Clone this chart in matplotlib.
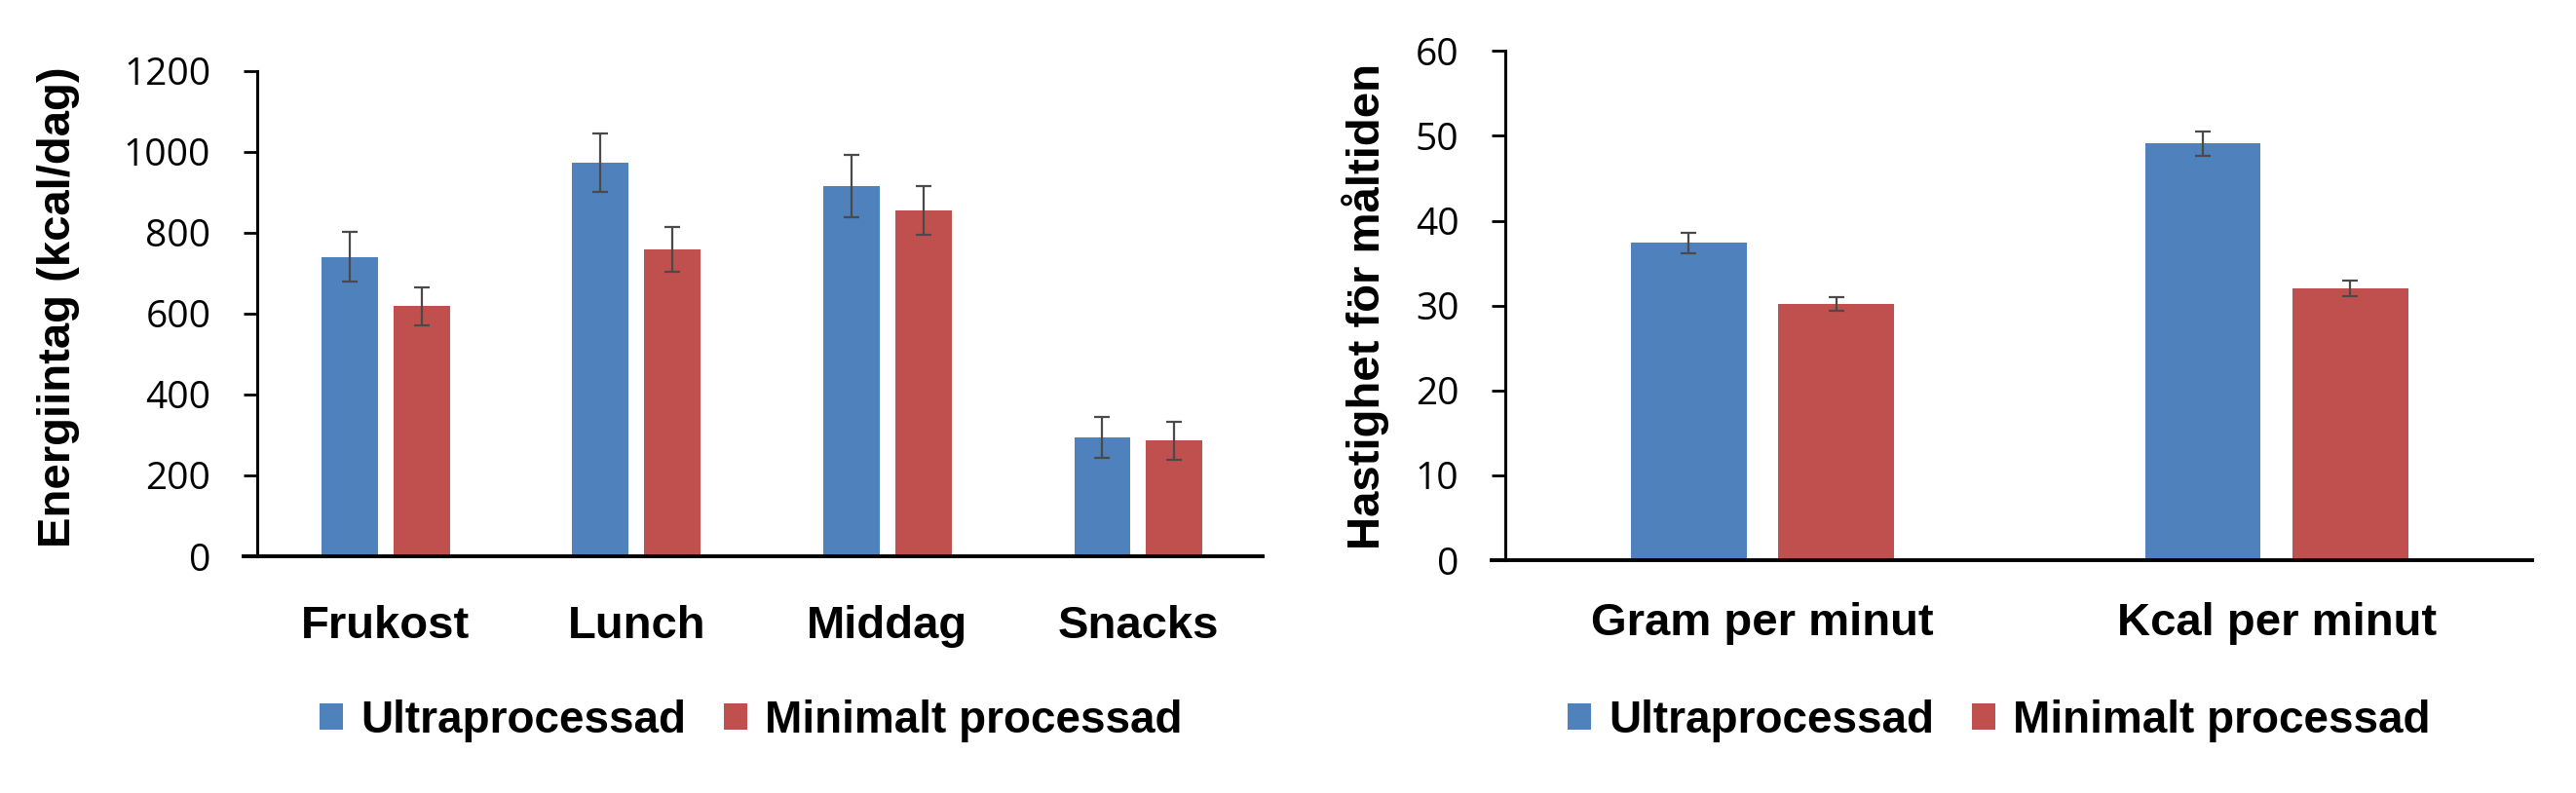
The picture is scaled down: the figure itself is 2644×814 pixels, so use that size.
import numpy as np
import matplotlib
matplotlib.use("Agg")
import matplotlib.pyplot as plt
from matplotlib import transforms

# data
meals = ["Frukost", "Lunch", "Middag", "Snacks"]
energy_ultra = [740, 972, 916, 294]
energy_ultra_err = [62, 72, 77, 50]
energy_min = [618, 758, 854, 286]
energy_min_err = [47, 55, 60, 47]

speed_labels = ["Gram per minut", "Kcal per minut"]
speed_ultra = [37.4, 49.1]
speed_ultra_err = [1.2, 1.45]
speed_min = [30.2, 32.0]
speed_min_err = [0.8, 0.9]

series_names = ["Ultraprocessad", "Minimalt processad"]
BLUE = "#4F81BD"
RED = "#C0504D"
ERR = "#4a4a4a"

W, H = 2644, 814
fig = plt.figure(figsize=(W / 100, H / 100), dpi=100)


def px_rect(x0, x1, ytop, ybot):
    return [x0 / W, 1 - ybot / H, (x1 - x0) / W, (ybot - ytop) / H]


def draw_panel(ax, cats, ultra, ultra_err, mini, mini_err, ylim, yticks,
               xlim, spine_off, ylabel, ylabel_x, label_base, leg_x, leg_y):
    # spine position first: moving a spine resets the ticks
    for s in ["top", "right"]:
        ax.spines[s].set_visible(False)
    ax.spines["left"].set_position(("axes", spine_off))
    ax.spines["left"].set_linewidth(2.2)
    ax.spines["bottom"].set_linewidth(2.8)

    x = np.arange(len(cats))
    bw = 0.225
    off = 0.1435
    ekw = dict(ecolor=ERR, elinewidth=1.6, capsize=5.5, capthick=1.6)
    b1 = ax.bar(x - off, ultra, bw, color=BLUE, yerr=ultra_err,
                error_kw=ekw, label=series_names[0])
    b2 = ax.bar(x + off, mini, bw, color=RED, yerr=mini_err,
                error_kw=ekw, label=series_names[1])
    ax.set_xlim(*xlim)
    ax.set_ylim(*ylim)
    ax.set_yticks(yticks)
    ax.set_yticklabels([str(t) for t in yticks], fontname="Open Sans",
                       fontsize=28)
    ax.set_xticks([])
    ax.tick_params(axis="y", length=10, width=2, pad=24, direction="out")

    # category labels
    trans = transforms.blended_transform_factory(ax.transData, fig.transFigure)
    for xi, c in zip(x, cats):
        ax.text(xi, 1 - label_base / H, c, transform=trans, ha="center",
                va="baseline", fontname="Liberation Sans", fontweight="bold",
                fontsize=34)

    fig.text(ylabel_x / W, 1 - 315 / H, ylabel, rotation=90, ha="center",
             va="center", fontname="Liberation Sans", fontweight="bold",
             fontsize=34)

    fig.legend(handles=[b1, b2], loc="center left",
               bbox_to_anchor=(leg_x / W, 1 - leg_y / H), ncol=2,
               frameon=False, borderpad=0, borderaxespad=0,
               handlelength=0.52, handleheight=0.52, handletextpad=0.4,
               columnspacing=0.85,
               prop=dict(family="Liberation Sans", weight="bold", size=33))


ax1 = fig.add_axes(px_rect(250, 1296, 72.7, 571))
draw_panel(ax1, meals, energy_ultra, energy_ultra_err, energy_min,
           energy_min_err, (0, 1200), list(range(0, 1201, 200)),
           (-0.565, 3.495), 13.5 / 1046, "Energiintag (kcal/dag)", 60,
           655, 328, 740)

ax2 = fig.add_axes(px_rect(1531, 2599, 52.4, 575))
draw_panel(ax2, speed_labels, speed_ultra, speed_ultra_err, speed_min,
           speed_min_err, (0, 60), list(range(0, 61, 10)),
           (-0.5266, 1.497), 13.6 / 1068, "Hastighet för måltiden", 1402,
           652, 1609, 740)

fig.savefig("out.png", dpi=100)
